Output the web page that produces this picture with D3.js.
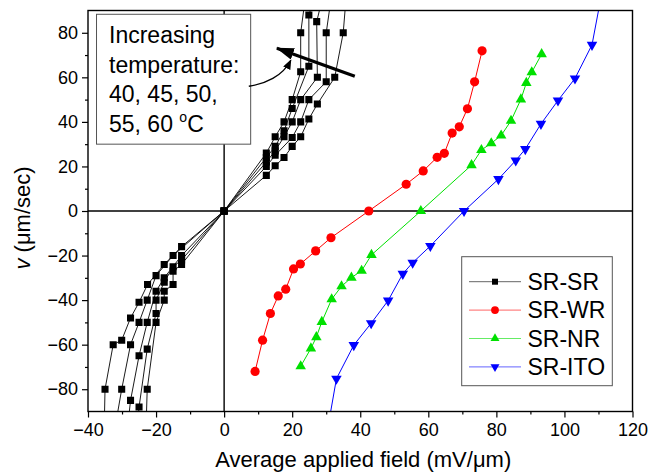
<!DOCTYPE html>
<html lang="en">
<head>
<meta charset="UTF-8">
<title>Velocity vs applied field</title>
<script src="https://cdn.jsdelivr.net/npm/d3@7"></script>
<style>
  body { margin: 0; background: #fff; }
  svg { font-family: "Liberation Sans", Arial, sans-serif; }
  .tick text { font-size: 18px; fill: #000; }
  .tick line { stroke: #000; stroke-width: 1.2; }
</style>
</head>
<body>
<svg id="chart" width="649" height="476"></svg>
<script>
// data: [field (mV/um), velocity (um/sec)]
const srsr40 = [[-35.2,-95],[-35,-80],[-32.6,-60],[-30.1,-58],[-27.5,-48],[-25,-41],[-22.5,-33],[-17.6,-24],[-12.5,-16],[0,0],[12.4,16],[15,20.3],[17.6,24],[20,29],[22.5,33.3],[24.9,41.3],[27.4,48],[32.5,60],[35,80],[35.8,95]];
const srsr45 = [[-31.8,-95],[-30.1,-80],[-27.5,-60],[-25,-50],[-22.6,-40],[-20,-29],[-15,-20],[0,0],[12.4,20],[15,25],[20,33],[22.5,40],[24.9,50],[30,58],[30,80],[31.4,95]];
const srsr50 = [[-28.2,-95],[-27.5,-85],[-25,-65],[-22.6,-50],[-20,-36],[-17.6,-30],[-12.5,-20],[0,0],[12.4,22],[15,27],[17.6,33.3],[20,40],[22.5,50],[27.4,60],[27.2,85],[28.8,95]];
const srsr55 = [[-25.4,-95],[-25,-88],[-22.6,-62],[-20,-46],[-20,-40],[-17.6,-32],[-15,-25],[-12.5,-22],[0,0],[12.4,24],[15,29],[17.6,36],[20,46],[24.9,65],[24.9,88],[26.4,95]];
const srsr60 = [[-22.9,-95],[-22.6,-80],[-20,-50],[-17.6,-40],[-17.6,-36],[-15,-33],[-15,-27],[-12.5,-24],[0,0],[12.4,26],[15,33.3],[17.6,40],[20,50],[22.5,62.5],[22.5,80],[23.8,95]];
const srwr = [[9.1,-72],[11.3,-58],[13.6,-46],[15.9,-38.1],[18.1,-35.1],[20.4,-26],[22.4,-23.8],[26.9,-17.9],[31.4,-12],[42.5,0],[53.5,12],[58.5,18],[62.6,24.1],[64.7,25.9],[67,35],[69.1,37.8],[71.5,45.9],[73.6,58],[75.8,71.9]];
const srnr = [[22.5,-69.7],[25.5,-61.7],[27.1,-56.6],[28.7,-49.8],[31.6,-39.6],[34.5,-33.8],[37.4,-29.9],[40.4,-26.8],[43.3,-19.7],[57.8,0],[72.7,20.6],[75.6,27.4],[78.5,30.4],[81.4,33.9],[84.3,40.5],[87.2,50.1],[88.8,57.5],[90.4,62.3],[93.3,70.4]];
const srito = [[30.4,-98],[33,-75.3],[38.1,-60.2],[43.2,-50.4],[48.2,-40.2],[52.5,-28.2],[55.4,-23.2],[60.6,-15.7],[70.5,0],[80.6,14.3],[85.7,22.7],[88.5,27.8],[93.1,39.1],[98.1,49.6],[103.1,59.5],[108.1,74.6],[111,98]];

const legendLabels = ["SR-SR", "SR-WR", "SR-NR", "SR-ITO"];
const xTicks = [-40, -20, 0, 20, 40, 60, 80, 100, 120];
const yTicks = [-80, -60, -40, -20, 0, 20, 40, 60, 80];
const noteLines = ["Increasing", "temperature:", "40, 45, 50,", "55, 60 "];

const svg = d3.select("#chart");
const m = { left: 88, right: 632.5, top: 10.5, bottom: 411.5 };

const x = d3.scaleLinear().domain([-40, 120]).range([m.left, m.right]);
const y = d3.scaleLinear().domain([-90, 90]).range([m.bottom, m.top]);

svg.append("defs").append("clipPath").attr("id", "clip")
  .append("rect").attr("x", m.left).attr("y", m.top)
  .attr("width", m.right - m.left).attr("height", m.bottom - m.top);

// axes: minor then major ticks
const minorX = d3.range(-30, 120, 20);
const minorY = d3.range(-70, 90, 20);
svg.append("g").attr("transform", `translate(0,${m.bottom})`)
  .call(d3.axisBottom(x).tickValues(minorX).tickSize(3).tickFormat(""))
  .call(g => g.select(".domain").remove());
svg.append("g").attr("transform", `translate(${m.left},0)`)
  .call(d3.axisLeft(y).tickValues(minorY).tickSize(3).tickFormat(""))
  .call(g => g.select(".domain").remove());
svg.append("g").attr("transform", `translate(0,${m.bottom})`)
  .call(d3.axisBottom(x).tickValues(xTicks).tickSize(6).tickPadding(6))
  .call(g => g.select(".domain").remove());
svg.append("g").attr("transform", `translate(${m.left},0)`)
  .call(d3.axisLeft(y).tickValues(yTicks).tickSize(6).tickPadding(4))
  .call(g => g.select(".domain").remove());

// zero lines
svg.append("line").attr("x1", x(-40)).attr("x2", x(120)).attr("y1", y(0)).attr("y2", y(0))
  .attr("stroke", "#000").attr("stroke-width", 1.4);
svg.append("line").attr("x1", x(0)).attr("x2", x(0)).attr("y1", y(-90)).attr("y2", y(90))
  .attr("stroke", "#000").attr("stroke-width", 1.4);

// annotation box (covers zero line)
svg.append("rect")
  .attr("x", x(-37.5)).attr("y", y(88.3))
  .attr("width", x(7.8) - x(-37.5)).attr("height", y(30) - y(88.3))
  .attr("fill", "#fff").attr("stroke", "#555").attr("stroke-width", 1);

const plot = svg.append("g").attr("clip-path", "url(#clip)");
const line = d3.line().x(d => x(d[0])).y(d => y(d[1]));

const series = [
  { data: [srsr40, srsr45, srsr50, srsr55, srsr60], color: "#000", sym: "square" },
  { data: [srwr], color: "#ff0000", sym: "circle" },
  { data: [srnr], color: "#00e000", sym: "up" },
  { data: [srito], color: "#0000ff", sym: "down" }
];

function drawSym(g, sym, color, cx, cy, scale) {
  const s = scale || 1;
  if (sym === "circle") {
    g.append("circle").attr("cx", cx).attr("cy", cy).attr("r", 4.6 * s).attr("fill", color);
  } else if (sym === "square") {
    g.append("path").attr("d", d3.symbol(d3.symbolSquare, 50 * s * s)())
      .attr("transform", `translate(${cx},${cy})`).attr("fill", color);
  } else {
    const rot = sym === "down" ? 180 : 0;
    g.append("path").attr("d", d3.symbol(d3.symbolTriangle, 48 * s * s)())
      .attr("transform", `translate(${cx},${cy}) rotate(${rot})`).attr("fill", color);
  }
}

series.forEach(s => {
  s.data.forEach(arr => {
    plot.append("path").datum(arr).attr("d", line)
      .attr("fill", "none").attr("stroke", s.color)
      .attr("stroke-width", s.sym === "square" ? 0.9 : 1);
  });
});
series.forEach(s => {
  s.data.forEach(arr => {
    arr.forEach(d => drawSym(plot, s.sym, s.color, x(d[0]), y(d[1])));
  });
});

// frame
svg.append("rect").attr("x", m.left).attr("y", m.top)
  .attr("width", m.right - m.left).attr("height", m.bottom - m.top)
  .attr("fill", "none").attr("stroke", "#000").attr("stroke-width", 1.4);

// annotation text
const note = svg.append("text").attr("font-size", 23).attr("fill", "#000");
noteLines.forEach((t, i) => {
  note.append("tspan").attr("x", 109).attr("y", 43 + i * 29.6).text(t);
});
note.append("tspan").attr("font-size", 14).attr("dy", -10).text("o");
note.append("tspan").attr("dy", 10).text("C");

// big arrow
const defs = svg.select("defs");
defs.append("marker").attr("id", "bigHead").attr("markerUnits", "userSpaceOnUse")
  .attr("viewBox", "0 0 18 12").attr("refX", 17).attr("refY", 6)
  .attr("markerWidth", 18).attr("markerHeight", 12).attr("orient", "auto")
  .append("path").attr("d", "M0,0 L18,6 L0,12 Z").attr("fill", "#000");
defs.append("marker").attr("id", "smallHead").attr("markerUnits", "userSpaceOnUse")
  .attr("viewBox", "0 0 10 8").attr("refX", 9).attr("refY", 4)
  .attr("markerWidth", 10).attr("markerHeight", 8).attr("orient", "auto")
  .append("path").attr("d", "M0,0 L10,4 L0,8 Z").attr("fill", "#000");

svg.append("line")
  .attr("x1", x(38.4)).attr("y1", y(60.5)).attr("x2", x(15.5)).attr("y2", y(73.1))
  .attr("stroke", "#000").attr("stroke-width", 3.2).attr("marker-end", "url(#bigHead)");

const curve = d3.path();
curve.moveTo(x(7.25), y(56));
curve.bezierCurveTo(x(12), y(57), x(17.2), y(60.5), x(19.6), y(67.7));
svg.append("path").attr("d", curve.toString()).attr("fill", "none")
  .attr("stroke", "#000").attr("stroke-width", 1.3).attr("marker-end", "url(#smallHead)");

// legend
const lg = svg.append("g");
lg.append("rect").attr("x", 461.7).attr("y", 256.7).attr("width", 150.6).attr("height", 129)
  .attr("fill", "#fff").attr("stroke", "#555").attr("stroke-width", 1);
legendLabels.forEach((lab, i) => {
  const s = series[i];
  const cy = 281.7 + i * 28.4;
  lg.append("line").attr("x1", 469).attr("x2", 521).attr("y1", cy).attr("y2", cy)
    .attr("stroke", s.color).attr("stroke-width", 1).attr("opacity", 0.6);
  drawSym(lg, s.sym, s.color, 495, cy, 0.85);
  lg.append("text").attr("x", 527.5).attr("y", cy + 8).attr("font-size", 23).text(lab);
});

// axis titles
svg.append("text").attr("x", (m.left + m.right) / 2 + 3).attr("y", 467)
  .attr("text-anchor", "middle").attr("font-size", 22).text("Average applied field (mV/\u03bcm)");
const yt = svg.append("text").attr("transform", "translate(30,218) rotate(-90)")
  .attr("text-anchor", "middle").attr("font-size", 22);
yt.append("tspan").attr("font-style", "italic").text("v");
yt.append("tspan").text(" (\u03bcm/sec)");
</script>
</body>
</html>
